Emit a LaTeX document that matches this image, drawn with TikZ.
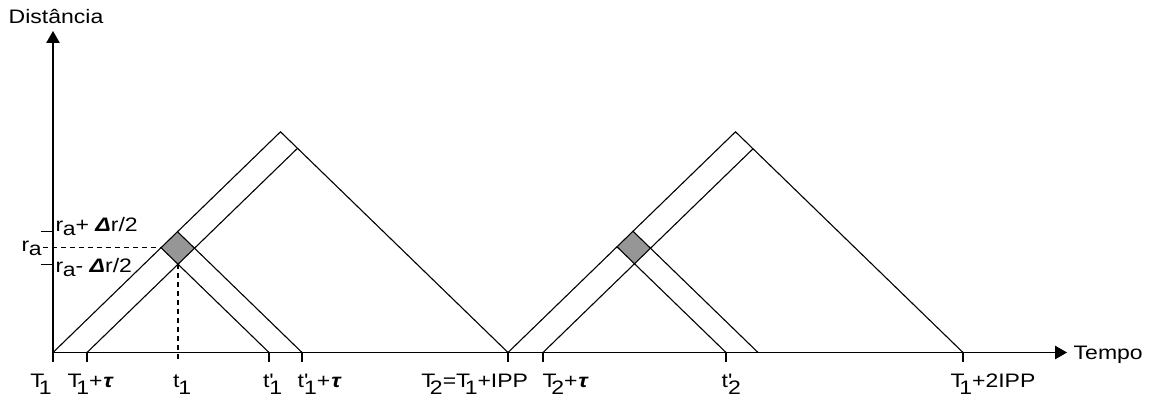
\documentclass[tikz,border=0pt]{standalone}
\usepackage{fontspec}
\setmainfont{Liberation Sans}[FakeStretch=1.18]
\usetikzlibrary{arrows.meta}
\definecolor{dgray}{RGB}{150,150,150}
\newcommand\Ts[2]{#1\kern-5.5pt\raisebox{-7.5pt}{#2}}
\newcommand\tsb[2]{#1\kern-1pt\raisebox{-7.5pt}{#2}}
\newcommand\tp[1]{t\rlap{\textquotesingle}\raisebox{-7.5pt}{#1}}
\newcommand\rsb{r\kern-0.5pt\raisebox{-3.5pt}{a}}
\newcommand\gt{{\bfseries\itshape τ}}
\newcommand\gD{{\bfseries\itshape Δ}}
\tikzset{
  lab/.style={font=\fontsize{19.5}{22}\selectfont, inner sep=0pt, anchor=base west},
  ln/.style={line width=1.1pt, line join=miter},
  dsh/.style={line width=1.1pt, dash pattern=on 5pt off 4pt},
  ax/.style={line width=1.1pt, -{Triangle[length=12pt,width=13.5pt]}}
}
\begin{document}
\begin{tikzpicture}[x=1pt,y=-1pt]
\useasboundingbox (0,0) rectangle (1153,401);
% base points
\coordinate (O) at (53,352.5);
\coordinate (T1) at (53,352.5);
\coordinate (T1t) at (87,352.5);
\coordinate (t1) at (178,352.5);
\coordinate (t1p) at (269,352.5);
\coordinate (t1pt) at (302,352.5);
\coordinate (T2) at (508,352.5);
\coordinate (T2t) at (543,352.5);
\coordinate (t2p) at (726,352.5);
\coordinate (t2pt) at (758,352.5);
\coordinate (T3) at (963,352.5);
\coordinate (A1) at (280.5,131.8);
\coordinate (A2) at (735.5,131.8);
\coordinate (J1) at (297.5,148.3);
\coordinate (J2) at (753,148.8);
\coordinate (L1) at (161,247.7);
\coordinate (U1) at (177.5,231.7);
\coordinate (R1) at (194.5,248.2);
\coordinate (B1) at (178,264.2);
\coordinate (L2) at (617,246.8);
\coordinate (U2) at (633,231.25);
\coordinate (R2) at (650.5,248.2);
\coordinate (B2) at (634.5,263.75);
\coordinate (Yend) at (53,31);
\coordinate (Xend) at (1067,352.5);
% diamonds
\fill[dgray] (L1) -- (U1) -- (R1) -- (B1) -- cycle;
\fill[dgray] (L2) -- (U2) -- (R2) -- (B2) -- cycle;
% axes
\draw[ax] (O) -- (Yend);
\draw[ax] (O) -- (Xend);
% triangle 1
\draw[ln] (T1) -- (A1) -- (T2);
\draw[ln] (T1t) -- (J1);
\draw[ln] (t1p) -- (L1);
\draw[ln] (t1pt) -- (U1);
% triangle 2
\draw[ln] (T2) -- (A2) -- (T3);
\draw[ln] (T2t) -- (J2);
\draw[ln] (t2p) -- (L2);
\draw[ln] (t2pt) -- (U2);
% x ticks
\foreach \p in {T1,T1t,t1p,t1pt,T2,T2t,t2p,T3}
  \draw[ln] (\p) -- ++(0,9);
\draw[dsh] (B1) -- ([yshift=-9pt]t1);
% y ticks
\draw[ln] ([xshift=-12pt]O |- U1) -- (O |- U1);
\draw[ln] ([xshift=-12pt]O |- B1) -- (O |- B1);
\draw[dsh] ([xshift=-10.5pt]O |- L1) -- (L1);
% labels
\node[lab] (ldist) at (8.5,24) {Distância};
\node[lab] (ltempo) at (1073.5,359) {Tempo};
\node[lab] (lrap) at (55.5,231.7) {\rsb+ \gD r/2};
\node[lab] (lram) at (55.5,272.7) {\rsb- \gD r/2};
\node[lab] (lra) at (21.5,251.7) {\rsb};
\node[lab] (lT1) at (30.2,387) {\Ts{T}{1}};
\node[lab] (lT1t) at (67.5,387) {\Ts{T}{1}+\kern1pt\gt};
\node[lab] (lt1) at (172.8,387) {\tsb{t}{1}};
\node[lab] (lt1p) at (262.8,387) {\tp{1}};
\node[lab] (lt1pt) at (297.5,387) {\tp{1}+\kern1pt\gt};
\node[lab] (lT2) at (421.2,387) {\Ts{T}{2}=\Ts{T}{1}+IPP};
\node[lab] (lT2t) at (542.5,387) {\Ts{T}{2}+\kern1pt\gt};
\node[lab] (lt2p) at (721.5,387) {\tp{2}};
\node[lab] (lT3) at (950.5,387) {\Ts{T}{1}+2IPP};
\end{tikzpicture}
\end{document}
